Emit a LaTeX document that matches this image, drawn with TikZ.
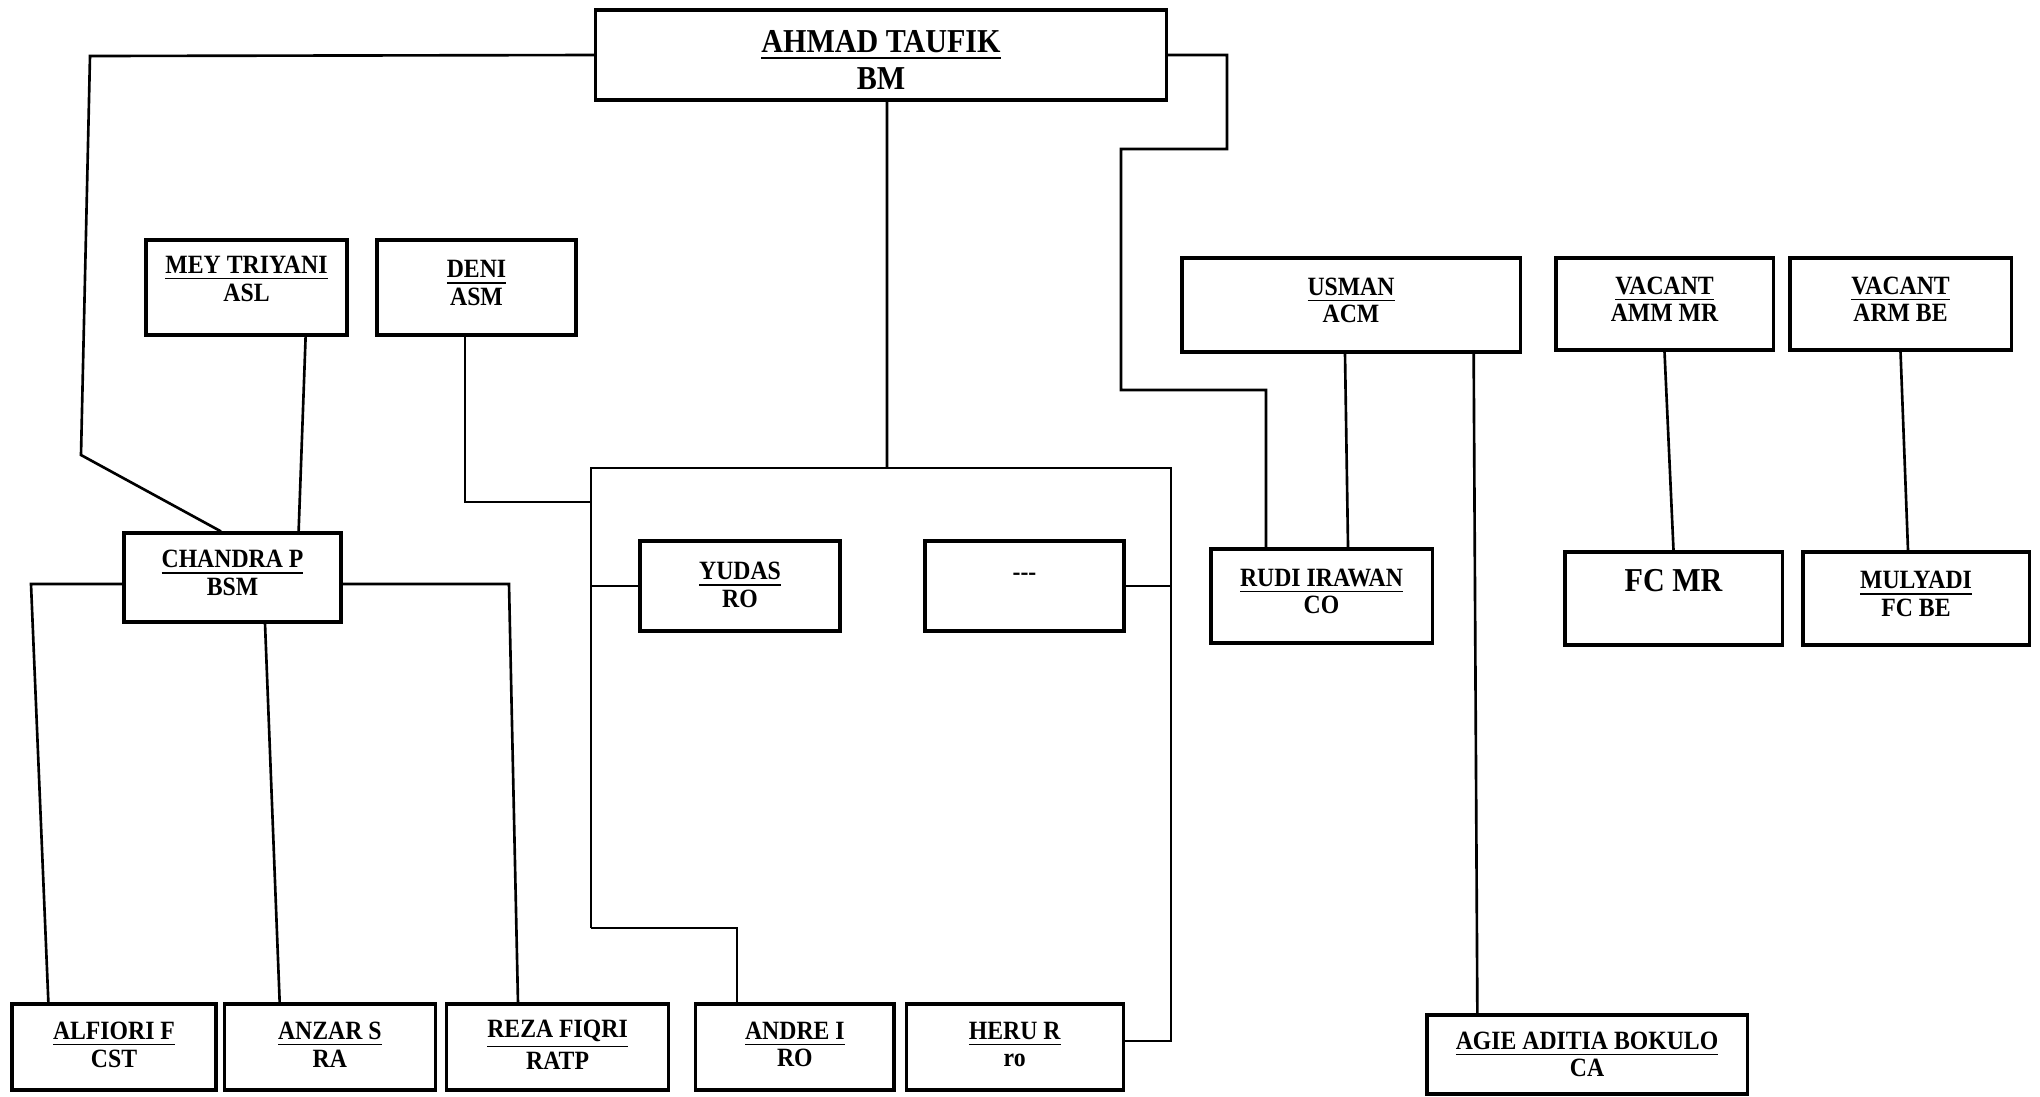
\documentclass[tikz,border=0pt]{standalone}
\usepackage{fontspec}
\setmainfont{Liberation Serif}[FakeStretch=0.9]
\usepackage{tikz}
\usetikzlibrary{positioning}
\tikzset{
    post/.style={
        rectangle, draw=black, line width=0.9pt, inner sep=0pt,
        align=center, text depth=2.6pt,
        font=\fontsize{7.5}{7.8}\selectfont\bfseries
    },
    head/.style={
        post, font=\fontsize{9.5}{10.5}\selectfont\bfseries
    },
    staff/.style={
        post, minimum height=0.86cm, text depth=1.4pt
    },
    link/.style={draw=black, line width=0.75pt}
}

\begin{document}
\begin{tikzpicture}[x=0.01cm, y=-0.01cm]
    \useasboundingbox (0,0) rectangle (2040,1096);

    \node[head, minimum width=5.70cm, minimum height=0.90cm, text height=19.8pt, text depth=0pt] (bm) at (881,55) {\underline{AHMAD TAUFIK}\\BM};

    \node[post, minimum width=2.01cm, minimum height=0.95cm, text depth=5pt] (asl) at (246.5,287.5) {\underline{MEY TRIYANI}\\ASL};
    \node[post, minimum width=1.99cm, minimum height=0.95cm] (asm) at (476.5,287.5) {\underline{DENI}\\ASM};
    \node[post, minimum width=2.17cm, minimum height=0.89cm] (bsm) at (232.5,577.5) {\underline{CHANDRA P}\\BSM};

    \node[post, minimum width=2.00cm, minimum height=0.90cm, text depth=0.8pt] (yudas) at (740,586) {\underline{YUDAS}\\RO};
    \node[post, minimum width=1.99cm, minimum height=0.90cm, text depth=5.2pt] (blank) at (1024.5,586) {-{}-{}-};

    \node[post, minimum width=3.38cm, minimum height=0.94cm] (acm) at (1351,305) {\underline{USMAN}\\ACM};
    \node[post, minimum width=2.17cm, minimum height=0.92cm] (ammmr) at (1664.5,304) {\underline{VACANT}\\AMM MR};
    \node[post, minimum width=2.21cm, minimum height=0.92cm] (armbe) at (1900.5,304) {\underline{VACANT}\\ARM BE};

    \node[post, minimum width=2.21cm, minimum height=0.94cm] (co) at (1321.5,596) {\underline{RUDI IRAWAN}\\CO};
    \node[head, minimum width=2.17cm, minimum height=0.93cm, text depth=0pt] (fcmr) at (1673.5,598.5) {FC MR\\\phantom{X}};
    \node[post, minimum width=2.26cm, minimum height=0.93cm] (fcbe) at (1916,598.5) {\underline{MULYADI}\\FC BE};

    \node[staff, minimum width=2.04cm] (cst) at (114,1047) {\underline{ALFIORI F}\\CST};
    \node[staff, minimum width=2.11cm, right=0.05cm of cst] (ra) {\underline{ANZAR S}\\RA};
    \node[staff, minimum width=2.22cm, right=0.08cm of ra] (ratp) {\underline{REZA FIQRI}\\RATP};
    \node[staff, minimum width=1.98cm, right=0.24cm of ratp] (andre) {\underline{ANDRE I}\\RO};
    \node[staff, minimum width=2.17cm, right=0.09cm of andre] (heru) {\underline{HERU R}\\ro};

    \node[post, minimum width=3.20cm, minimum height=0.79cm, text depth=0pt] (ca) at (1587,1054.5) {\underline{AGIE ADITIA BOKULO}\\CA};

    \coordinate (jtop) at (887,468);
    \coordinate (fl) at (591,468);
    \coordinate (fr) at (1171,468);
    \coordinate (fbl) at (591,928);
    \coordinate (fbr) at (1171,1041);
    \coordinate (ab) at (737,928);
    \coordinate (dj) at (591,502);
    \coordinate (bl1) at (90,56);
    \coordinate (bl2) at (81,455);
    \coordinate (br1) at (1227,55);
    \coordinate (br2) at (1227,149);
    \coordinate (br3) at (1121,149);
    \coordinate (br4) at (1121,390);
    \coordinate (br5) at (1266,390);
    \coordinate (cl) at (31,584);
    \coordinate (cr) at (509,584);

    \draw[link] (bm.west) -- (bl1) -- (bl2) -- ([xshift=-0.115cm]bsm.north);
    \draw[link] (bm.east) -- (br1) -- (br2) -- (br3) -- (br4) -- (br5) -- ([xshift=-0.555cm]co.north);
    \draw[link] ([xshift=0.06cm]bm.south) -- (jtop);
    \draw[link] (fbl) -- (fl) -- (fr) -- (fbr) -- (fbr -| heru.east);
    \draw[link] (fbl) -- (ab) -- (andre.north -| ab);
    \draw[link] (fl |- yudas.west) -- (yudas.west);
    \draw[link] (blank.east) -- (fr |- blank.east);
    \draw[link] ([xshift=-0.115cm]asm.south) |- (dj);
    \draw[link] ([xshift=-0.43cm]asl.south east) -- ([xshift=-0.44cm]bsm.north east);

    \draw[link] (bsm.west |- cl) -- (cl) -- ([xshift=0.38cm]cst.north west);
    \draw[link] ([xshift=0.325cm]bsm.south) -- ([xshift=0.57cm]ra.north west);
    \draw[link] (bsm.east |- cr) -- (cr) -- ([xshift=0.73cm]ratp.north west);

    \draw[link] ([xshift=-0.06cm]acm.south) -- ([xshift=0.265cm]co.north);
    \draw[link] ([xshift=-0.48cm]acm.south east) -- ([xshift=0.52cm]ca.north west);
    \draw[link] (ammmr.south) -- (fcmr.north);
    \draw[link] (armbe.south) -- ([xshift=-0.08cm]fcbe.north);
\end{tikzpicture}
\end{document}
